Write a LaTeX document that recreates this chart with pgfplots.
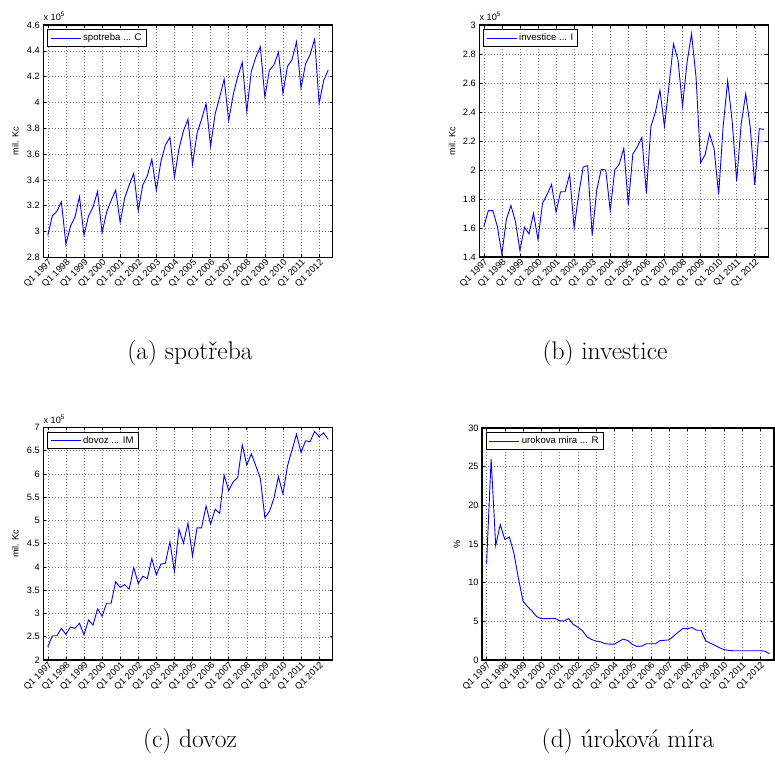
\documentclass[border=0pt]{standalone}
\usepackage{pgfplots}
\pgfplotsset{compat=1.18}
\usepackage{pgfplotstable}
\usepackage{fontspec}
\newfontfamily\helv{Liberation Sans}

\pgfplotstableread{
i v
0 2.97
1 3.12
2 3.155
3 3.23
4 2.90
5 3.04
6 3.11
7 3.27
8 2.97
9 3.12
10 3.19
11 3.31
12 2.99
13 3.15
14 3.24
15 3.32
16 3.07
17 3.26
18 3.36
19 3.45
20 3.16
21 3.36
22 3.43
23 3.56
24 3.32
25 3.54
26 3.67
27 3.73
28 3.42
29 3.64
30 3.78
31 3.87
32 3.52
33 3.76
34 3.87
35 3.99
36 3.66
37 3.91
38 4.04
39 4.18
40 3.86
41 4.06
42 4.20
43 4.31
44 3.93
45 4.24
46 4.35
47 4.43
48 4.04
49 4.25
50 4.29
51 4.39
52 4.07
53 4.28
54 4.33
55 4.47
56 4.11
57 4.30
58 4.37
59 4.49
60 3.99
61 4.17
62 4.25
}\dataC

\pgfplotstableread{
i v
0 1.61
1 1.72
2 1.72
3 1.61
4 1.42
5 1.66
6 1.755
7 1.645
8 1.445
9 1.605
10 1.56
11 1.70
12 1.52
13 1.77
14 1.83
15 1.90
16 1.71
17 1.85
18 1.85
19 1.97
20 1.60
21 1.83
22 2.02
23 2.03
24 1.55
25 1.86
26 2.005
27 2.00
28 1.72
29 2.00
30 2.04
31 2.15
32 1.76
33 2.11
34 2.16
35 2.225
36 1.84
37 2.30
38 2.40
39 2.55
40 2.30
41 2.58
42 2.87
43 2.76
44 2.44
45 2.74
46 2.94
47 2.64
48 2.05
49 2.105
50 2.25
51 2.145
52 1.83
53 2.30
54 2.615
55 2.335
56 1.925
57 2.32
58 2.525
59 2.295
60 1.895
61 2.285
62 2.28
}\dataI

\pgfplotstableread{
i v
0 2.285
1 2.52
2 2.52
3 2.68
4 2.55
5 2.71
6 2.68
7 2.79
8 2.54
9 2.86
10 2.75
11 3.10
12 2.94
13 3.22
14 3.22
15 3.68
16 3.56
17 3.62
18 3.52
19 3.99
20 3.645
21 3.80
22 3.75
23 4.18
24 3.83
25 4.06
26 4.08
27 4.54
28 3.90
29 4.81
30 4.51
31 4.94
32 4.23
33 4.84
34 4.84
35 5.31
36 4.92
37 5.24
38 5.15
39 5.97
40 5.64
41 5.83
42 5.92
43 6.62
44 6.19
45 6.43
46 6.17
47 5.90
48 5.06
49 5.19
50 5.47
51 5.94
52 5.57
53 6.17
54 6.51
55 6.85
56 6.46
57 6.71
58 6.69
59 6.91
60 6.80
61 6.88
62 6.74
}\dataIM

\pgfplotstableread{
i v
0 12.5
1 26.0
2 14.8
3 17.5
4 15.6
5 15.9
6 13.8
7 10.5
8 7.6
9 6.9
10 6.3
11 5.6
12 5.35
13 5.35
14 5.35
15 5.4
16 5.05
17 5.05
18 5.35
19 4.6
20 4.25
21 3.8
22 3.0
23 2.65
24 2.45
25 2.35
26 2.1
27 2.05
28 2.05
29 2.4
30 2.7
31 2.5
32 2.0
33 1.75
34 1.8
35 2.1
36 2.1
37 2.1
38 2.5
39 2.55
40 2.6
41 3.1
42 3.6
43 4.05
44 4.05
45 4.2
46 3.85
47 3.85
48 2.5
49 2.2
50 1.9
51 1.6
52 1.35
53 1.25
54 1.2
55 1.2
56 1.2
57 1.2
58 1.2
59 1.2
60 1.2
61 1.15
62 0.8
}\dataR

\newcommand{\tfont}{\helv\fontsize{9.2bp}{11bp}\selectfont}
\newcommand{\lfont}{\helv\fontsize{9.6bp}{11bp}\selectfont}
\newcommand{\cfont}{\fontsize{25.5bp}{30bp}\selectfont}

\pgfplotsset{
  matlab/.style={
    scale only axis,
    anchor=south west,
    xmin=-1, xmax=63,
    xtick={0,4,...,60},
    xticklabels={Q1 1997,Q1 1998,Q1 1999,Q1 2000,Q1 2001,Q1 2002,Q1 2003,Q1 2004,Q1 2005,Q1 2006,Q1 2007,Q1 2008,Q1 2009,Q1 2010,Q1 2011,Q1 2012},
    xticklabel style={rotate=45, anchor=north east, inner sep=0.5pt},
    grid=major,
    major grid style={black!55, line width=0.45pt, dash pattern=on 0.6bp off 2.4bp},
    axis line style={black, line width=1.1pt},
    tick style={black, line width=0.6pt},
    major tick length=3bp,
    tick align=inside,
    tick label style={font=\tfont},
    label style={font=\tfont},
    /pgf/number format/assume math mode=true,
    scaled ticks=false,
    legend style={at={(axis description cs:0,1)}, anchor=north west, xshift=4bp, yshift=-4.3bp,
      draw=black, line width=0.9pt, fill=white, inner xsep=2.5bp, inner ysep=2.2bp,
      font=\lfont, cells={anchor=west}},
    legend image code/.code={\draw[blue, line width=0.9pt] (0bp,0bp) -- (30bp,0bp);},
  },
  ser/.style={blue, line width=0.9pt, no marks},
}

\begin{document}
\begin{tikzpicture}
\path[use as bounding box] (0,0) rectangle (775bp,778bp);

% (a)
\begin{axis}[matlab, name=pa, at={(43.3bp,520.7bp)}, width=289.4bp, height=232.3bp,
  ymin=2.8, ymax=4.6, ytick={2.8,3,3.2,3.4,3.6,3.8,4,4.2,4.4,4.6},
  ylabel={mil. Kc}, ylabel style={at={(axis description cs:-0.097,0.5)}, anchor=center}]
\addplot[ser] table[x=i,y=v] {\dataC};
\addlegendentry{spotreba ... C}
\end{axis}
\node[anchor=base west, inner sep=0, font=\tfont] at ([yshift=4.3bp]pa.north west) {x 10\textsuperscript{5}};

% (b)
\begin{axis}[matlab, name=pb, at={(479.3bp,521bp)}, width=289bp, height=232bp,
  ymin=1.4, ymax=3, ytick={1.4,1.6,1.8,2,2.2,2.4,2.6,2.8,3},
  ylabel={mil. Kc}, ylabel style={at={(axis description cs:-0.094,0.5)}, anchor=center}]
\addplot[ser] table[x=i,y=v] {\dataI};
\addlegendentry{investice ... I}
\end{axis}
\node[anchor=base west, inner sep=0, font=\tfont] at ([yshift=4.3bp]pb.north west) {x 10\textsuperscript{5}};

% (c)
\begin{axis}[matlab, name=pc, at={(43.3bp,118bp)}, width=289.4bp, height=232.7bp,
  ymin=2, ymax=7, ytick={2,2.5,3,3.5,4,4.5,5,5.5,6,6.5,7},
  ylabel={mil. Kc}, ylabel style={at={(axis description cs:-0.097,0.5)}, anchor=center}]
\addplot[ser] table[x=i,y=v] {\dataIM};
\addlegendentry{dovoz ... IM}
\end{axis}
\node[anchor=base west, inner sep=0, font=\tfont] at ([yshift=4.3bp]pc.north west) {x 10\textsuperscript{5}};

% (d)
\begin{axis}[matlab, name=pd, at={(482bp,118bp)}, width=292bp, height=232bp,
  ymin=0, ymax=30, ytick={0,5,10,15,20,25,30},
  ylabel={\%}, ylabel style={at={(axis description cs:-0.086,0.5)}, anchor=center}]
\addplot[ser] table[x=i,y=v] {\dataR};
\addlegendentry{urokova mira ... R}
\end{axis}

% captions
\node[anchor=base, font=\cfont] at (190bp,418bp) {(a) spotřeba};
\node[anchor=base, font=\cfont] at (605bp,418bp) {(b) investice};
\node[anchor=base, font=\cfont] at (190bp,31bp) {(c) dovoz};
\node[anchor=base, font=\cfont] at (628bp,31bp) {(d) úroková míra};
\end{tikzpicture}
\end{document}
